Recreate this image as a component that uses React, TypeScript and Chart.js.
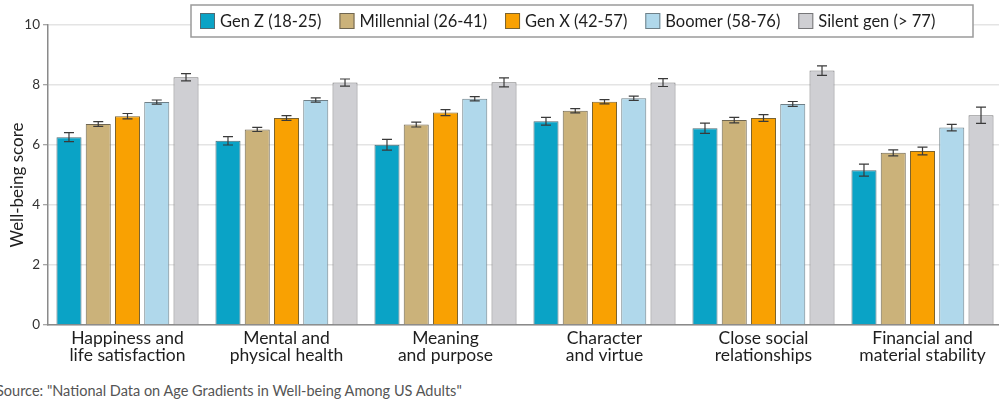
import React, { useEffect, useRef } from "react";
import { Chart, registerables } from "chart.js";

Chart.register(...registerables);

const categories: string[][] = [
  ["Happiness and", "life satisfaction"],
  ["Mental and", "physical health"],
  ["Meaning", "and purpose"],
  ["Character", "and virtue"],
  ["Close social", "relationships"],
  ["Financial and", "material stability"],
];

const seriesNames = ["Gen Z (18-25)", "Millennial (26-41)", "Gen X (42-57)", "Boomer (58-76)", "Silent gen (> 77)"];

const genZ = [6.26, 6.14, 6.01, 6.79, 6.56, 5.16];
const genZErr = [0.15, 0.14, 0.18, 0.13, 0.17, 0.2];
const millennial = [6.7, 6.52, 6.68, 7.14, 6.83, 5.74];
const millennialErr = [0.08, 0.07, 0.08, 0.07, 0.09, 0.1];
const genX = [6.96, 6.9, 7.08, 7.44, 6.9, 5.8];
const genXErr = [0.09, 0.08, 0.1, 0.07, 0.11, 0.13];
const boomer = [7.43, 7.5, 7.54, 7.56, 7.37, 6.58];
const boomerErr = [0.07, 0.07, 0.07, 0.07, 0.08, 0.11];
const silent = [8.26, 8.08, 8.09, 8.08, 8.48, 6.99];
const silentErr = [0.12, 0.12, 0.15, 0.13, 0.16, 0.27];

const yTicks = [0, 2, 4, 6, 8, 10];
const yTitle = "Well-being score";

const colors = ["#0aa3c6", "#cbb27a", "#f9a102", "#b0d8eb", "#cfcfd3"];
const borderColors = ["#4f6b74", "#6f6652", "#7a6330", "#6f8088", "#777779"];

const seriesValues = [genZ, millennial, genX, boomer, silent];
const seriesErrors = [genZErr, millennialErr, genXErr, boomerErr, silentErr];

const FONT = "Lato, 'Open Sans', sans-serif";

const errorBarPlugin = {
  id: "errorBars",
  afterDatasetsDraw(chart: any) {
    const ctx = chart.ctx;
    const yScale = chart.scales.y;
    ctx.save();
    ctx.strokeStyle = "#3a3a3a";
    ctx.lineWidth = 1.2;
    chart.data.datasets.forEach((ds: any, di: number) => {
      const meta = chart.getDatasetMeta(di);
      const errs = ds.errors as number[];
      meta.data.forEach((bar: any, i: number) => {
        const v = ds.data[i];
        const e = errs[i];
        const x = bar.x;
        const yT = yScale.getPixelForValue(v + e);
        const yB = yScale.getPixelForValue(v - e);
        ctx.beginPath();
        ctx.moveTo(x, yT);
        ctx.lineTo(x, yB);
        ctx.moveTo(x - 5, yT);
        ctx.lineTo(x + 5, yT);
        ctx.moveTo(x - 5, yB);
        ctx.lineTo(x + 5, yB);
        ctx.stroke();
      });
    });
    ctx.restore();
  },
};

const yTitlePlugin = {
  id: "yTitle",
  afterDraw(chart: any) {
    const ctx = chart.ctx;
    const area = chart.chartArea;
    ctx.save();
    ctx.translate(18, (area.top + area.bottom) / 2 + 10);
    ctx.rotate(-Math.PI / 2);
    ctx.font = `17px ${FONT}`;
    ctx.fillStyle = "#1e1e1e";
    ctx.textAlign = "center";
    ctx.textBaseline = "middle";
    ctx.fillText(yTitle, 0, 0);
    ctx.restore();
  },
};

const legendPlugin = {
  id: "boxLegend",
  afterDraw(chart: any) {
    const ctx = chart.ctx;
    ctx.save();
    const bx = 191, by = 5, bw = 782, bh = 32;
    ctx.fillStyle = "#ffffff";
    ctx.fillRect(bx, by, bw, bh);
    ctx.strokeStyle = "#9a9a9a";
    ctx.lineWidth = 1.5;
    ctx.strokeRect(bx, by, bw, bh);
    ctx.font = `16.5px ${FONT}`;
    ctx.textBaseline = "middle";
    ctx.textAlign = "left";
    let x = 200;
    const cy = by + bh / 2;
    chart.data.datasets.forEach((ds: any) => {
      ctx.fillStyle = ds.backgroundColor;
      ctx.fillRect(x, cy - 8, 15, 16);
      ctx.strokeStyle = ds.borderColor;
      ctx.lineWidth = 1;
      ctx.strokeRect(x + 0.5, cy - 7.5, 14, 15);
      ctx.fillStyle = "#1e1e1e";
      ctx.fillText(ds.label, x + 20, cy + 1);
      const w = ctx.measureText(ds.label).width;
      x += 20 + w + 18;
    });
    ctx.restore();
  },
};

export default function App() {
  const canvasRef = useRef<HTMLCanvasElement | null>(null);

  useEffect(() => {
    if (!canvasRef.current) return;
    const chart = new Chart(canvasRef.current, {
      type: "bar",
      data: {
        labels: categories,
        datasets: seriesNames.map((name, i) => ({
          label: name,
          data: seriesValues[i],
          errors: seriesErrors[i],
          backgroundColor: colors[i],
          borderColor: borderColors[i],
          borderWidth: 1,
          categoryPercentage: 0.92,
          barPercentage: 0.856,
        })) as any,
      },
      options: {
        responsive: false,
        animation: false,
        layout: { padding: { top: 25, left: 0, right: 0, bottom: 0 } },
        plugins: {
          legend: { display: false },
          tooltip: { enabled: false },
        },
        scales: {
          x: {
            grid: { display: false, drawTicks: false },
            border: { display: true, color: "#8a8a8a", width: 1.5 },
            ticks: {
              color: "#1e1e1e",
              font: { family: FONT, size: 17.5, lineHeight: 0.95 },
              padding: 5,
              maxRotation: 0,
              autoSkip: false,
            },
            afterFit: (scale: any) => {
              scale.height = 47;
            },
          },
          y: {
            min: 0,
            max: 10,
            afterBuildTicks: (scale: any) => {
              scale.ticks = yTicks.map((v) => ({ value: v }));
            },
            grid: {
              color: "#e4e4e4",
              lineWidth: 1.5,
              tickLength: 5,
              tickColor: "#8a8a8a",
              tickWidth: 1,
            },
            border: { display: true, color: "#8a8a8a", width: 1.5 },
            ticks: {
              color: "#333333",
              font: { family: FONT, size: 13.5 },
              padding: 3,
            },
            title: { display: false },
            afterFit: (scale: any) => {
              scale.width = 48;
            },
          },
        },
      },
      plugins: [errorBarPlugin, legendPlugin, yTitlePlugin],
    });
    return () => chart.destroy();
  }, []);

  return (
    <div
      style={{
        position: "fixed",
        left: 0,
        top: 0,
        width: 999,
        height: 399,
        overflow: "hidden",
        background: "#ffffff",
      }}
    >
      <canvas ref={canvasRef} width={1002} height={372} style={{ position: "absolute", left: 0, top: 0 }} />
      <div
        style={{
          position: "absolute",
          left: -4,
          top: 382,
          fontFamily: FONT,
          fontSize: 14.5,
          color: "#555555",
          whiteSpace: "nowrap",
        }}
      >
        Source: "National Data on Age Gradients in Well-being Among US Adults"
      </div>
    </div>
  );
}
